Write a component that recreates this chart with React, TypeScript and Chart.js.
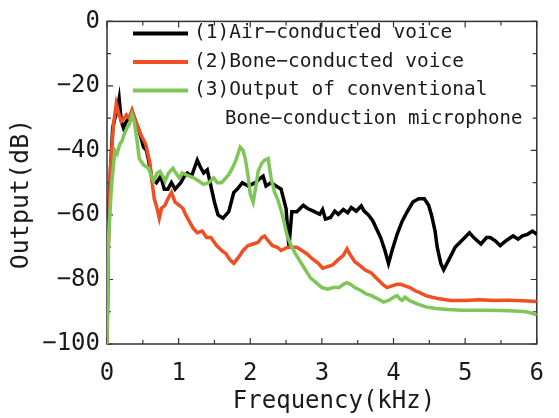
import React, { useEffect, useRef } from "react";
import { Chart, registerables } from "chart.js";

Chart.register(...registerables);

// ---- Data ----
const xTickValues = [0, 1, 2, 3, 4, 5, 6];
const yTickValues = [0, -20, -40, -60, -80, -100];
const seriesLabels = [
  "(1)Air−conducted voice",
  "(2)Bone−conducted voice",
  "(3)Output of conventional",
];
const legendContinuation = "Bone−conduction microphone";
const xTitle = "Frequency(kHz)";
const yTitle = "Output(dB)";

const airFreq = [
  0, 0.02, 0.05, 0.08, 0.11, 0.14, 0.17, 0.2, 0.23, 0.27, 0.31, 0.35, 0.4, 0.45, 0.51, 0.55, 0.58,
  0.63, 0.69, 0.75, 0.8, 0.85, 0.9, 0.95, 1.03, 1.08, 1.12, 1.18, 1.26, 1.3, 1.35, 1.4, 1.46, 1.5,
  1.55, 1.62, 1.7, 1.77, 1.82, 1.89, 1.97, 2.07, 2.12, 2.18, 2.22, 2.29, 2.36, 2.43, 2.5, 2.54,
  2.58, 2.65, 2.74, 2.8, 2.88, 2.97, 3.01, 3.05, 3.12, 3.18, 3.23, 3.3, 3.36, 3.41, 3.48, 3.55,
  3.59, 3.65, 3.71, 3.82, 3.88, 3.93, 3.98, 4.05, 4.12, 4.19, 4.27, 4.35, 4.43, 4.49, 4.53, 4.58,
  4.61, 4.66, 4.7, 4.77, 4.86, 4.95, 5.06, 5.12, 5.22, 5.3, 5.35, 5.42, 5.49, 5.57, 5.67, 5.74,
  5.8, 5.87, 5.94, 6.0,
];
const airDb = [
  -100, -64, -45, -33, -30, -28, -24, -31, -33, -31, -30, -28, -31, -34, -39, -40, -43,
  -49, -50, -48, -52, -52, -50, -52, -50, -48, -47, -48, -43, -45, -47, -46, -52, -56,
  -60, -61, -59, -53, -52, -50, -51, -50, -49, -48, -51, -50, -51, -52, -58, -70,
  -59, -59, -57, -58, -58.8, -59.8, -58.3, -61.3, -60.8, -58.8, -59.8, -58.3, -59.3, -57.7, -58.8, -57.2,
  -58.8, -60, -61.8, -67, -71, -75, -71, -66, -62, -59, -56, -55, -55, -57, -60, -65,
  -70, -75, -77, -74, -70, -68, -65.5, -67, -69, -67, -67, -68, -69.5, -68, -66.5, -67.5,
  -66.5, -66, -65, -66,
];

const boneFreq = [
  0, 0.02, 0.05, 0.09, 0.13, 0.17, 0.2, 0.24, 0.27, 0.31, 0.35, 0.4, 0.47, 0.54, 0.6, 0.63,
  0.66, 0.7, 0.73, 0.76, 0.81, 0.85, 0.9, 0.95, 1.01, 1.06, 1.1, 1.15, 1.2, 1.26, 1.33, 1.39,
  1.45, 1.53, 1.6, 1.66, 1.72, 1.77, 1.84, 1.9, 1.97, 2.04, 2.11, 2.16, 2.2, 2.25, 2.31, 2.38,
  2.43, 2.52, 2.58, 2.65, 2.72, 2.79, 2.86, 2.95, 3.01, 3.08, 3.15, 3.22, 3.3, 3.35, 3.4, 3.46,
  3.52, 3.6, 3.69, 3.78, 3.85, 3.91, 3.98, 4.05, 4.1, 4.16, 4.23, 4.3, 4.36, 4.45, 4.54, 4.64,
  4.8, 5.0, 5.2, 5.4, 5.6, 5.8, 6.0,
];
const boneDb = [
  -100, -70, -45, -32, -25.5, -29, -31, -30, -29, -30, -27.5, -31, -35, -38, -44, -50,
  -55, -58, -61, -58, -57, -55, -53, -56, -57, -58, -60, -62, -64, -65.5, -65, -67,
  -67, -69.5, -71, -72, -74, -75, -73, -71, -69.5, -69, -68.5, -67, -66.5, -68, -69.5, -70,
  -71, -70, -70, -70, -71, -72, -73.5, -75, -76.5, -76, -75.5, -74, -72.5, -70.5, -72.5, -74.5,
  -75.5, -77, -78, -80, -81.5, -82.5, -82, -81.5, -81.5, -82, -82.5, -83.5, -84, -85, -85.5, -86,
  -86.5, -86.5, -86.3, -86.5, -86.4, -86.6, -86.8,
];

const convFreq = [
  0, 0.02, 0.04, 0.06, 0.08, 0.11, 0.14, 0.18, 0.21, 0.24, 0.28, 0.31, 0.35, 0.38, 0.42, 0.45,
  0.51, 0.58, 0.62, 0.65, 0.7, 0.74, 0.78, 0.81, 0.86, 0.92, 0.96, 1.01, 1.05, 1.1, 1.15, 1.21,
  1.28, 1.35, 1.42, 1.49, 1.54, 1.6, 1.66, 1.7, 1.75, 1.8, 1.86, 1.9, 1.93, 1.97, 2.0, 2.04,
  2.08, 2.11, 2.16, 2.2, 2.25, 2.29, 2.34, 2.38, 2.43, 2.47, 2.51, 2.56, 2.63, 2.7, 2.77, 2.84,
  2.92, 3.0, 3.08, 3.16, 3.24, 3.3, 3.35, 3.4, 3.46, 3.55, 3.62, 3.69, 3.78, 3.86, 3.93, 4.0,
  4.05, 4.09, 4.12, 4.16, 4.22, 4.32, 4.45, 4.59, 4.75, 4.95, 5.2, 5.49, 5.7, 5.85, 5.94, 6.0,
];
const convDb = [
  -100, -68, -60, -52, -47, -40, -41, -38, -37, -35, -33, -32, -29, -31, -37, -42.5,
  -44.5, -45.5, -48, -49.5, -47, -46.5, -48, -49.5, -47, -45.5, -47, -48.5, -47, -47.5, -48, -48.5,
  -49.5, -50.5, -50, -48.5, -50, -50, -48.5, -47.5, -45.5, -43, -39, -40, -42.5, -48, -53.5, -56,
  -51, -46.5, -44, -43, -42.5, -48.5, -53, -55, -58.5, -62, -66, -69, -72, -74.5, -77, -79.5,
  -81, -82.5, -83, -82.5, -82.5, -81.5, -81, -81.5, -82.5, -83.5, -84.5, -85, -86, -87, -86.5, -85.5,
  -85, -86, -86.5, -85.5, -86.5, -87.5, -88.5, -89, -89.3, -89.5, -89.5, -89.6, -89.8, -90, -90.5, -91,
];

const seriesColors = ["#000000", "#ef4f22", "#7dc657"];

const FONT = "'DejaVu Sans Mono', monospace";

const toPoints = (xs: number[], ys: number[]) => xs.map((x, i) => ({ x, y: ys[i] }));

const decorPlugin = {
  id: "decor",
  beforeDatasetsDraw(chart: any) {
    const { ctx, chartArea: a, scales } = chart;
    const xs = scales.x;
    const ys = scales.y;
    ctx.save();
    ctx.strokeStyle = "#333333";
    ctx.lineWidth = 1.5;
    ctx.strokeRect(a.left, a.top, a.right - a.left, a.bottom - a.top);
    ctx.lineWidth = 1.2;
    const xStep = (xTickValues[1] - xTickValues[0]) / 2;
    const xMax = xTickValues[xTickValues.length - 1];
    for (let i = 0; xTickValues[0] + i * xStep <= xMax + 1e-9; i++) {
      const v = xTickValues[0] + i * xStep;
      const px = xs.getPixelForValue(v);
      const len = i % 2 === 0 ? 6 : 4;
      ctx.beginPath();
      ctx.moveTo(px, a.bottom);
      ctx.lineTo(px, a.bottom - len);
      ctx.moveTo(px, a.top);
      ctx.lineTo(px, a.top + len);
      ctx.stroke();
    }
    const yStep = (yTickValues[0] - yTickValues[1]) / 2;
    const yMin = yTickValues[yTickValues.length - 1];
    for (let i = 0; yTickValues[0] - i * yStep >= yMin - 1e-9; i++) {
      const v = yTickValues[0] - i * yStep;
      const py = ys.getPixelForValue(v);
      const len = i % 2 === 0 ? 6 : 4;
      ctx.beginPath();
      ctx.moveTo(a.left, py);
      ctx.lineTo(a.left + len, py);
      ctx.moveTo(a.right, py);
      ctx.lineTo(a.right - len, py);
      ctx.stroke();
    }
    ctx.restore();
  },
  afterDraw(chart: any) {
    const { ctx, chartArea: a } = chart;
    ctx.save();
    // axis titles
    ctx.fillStyle = "#1a1a1a";
    ctx.font = `24px ${FONT}`;
    ctx.textAlign = "center";
    ctx.textBaseline = "middle";
    ctx.fillText(xTitle, 334, 402);
    ctx.save();
    ctx.translate(21, 194);
    ctx.rotate(-Math.PI / 2);
    ctx.font = `25px ${FONT}`;
    ctx.fillText(yTitle, 0, 0);
    ctx.restore();
    // legend
    const rowGap = 28.5;
    const x0 = a.left + 26;
    const x1 = a.left + 81;
    const tx = a.left + 87;
    ctx.font = `19.5px ${FONT}`;
    ctx.textAlign = "left";
    seriesLabels.forEach((label, i) => {
      const y = a.top + 12 + i * rowGap;
      ctx.strokeStyle = seriesColors[i];
      ctx.lineWidth = 4;
      ctx.beginPath();
      ctx.moveTo(x0, y);
      ctx.lineTo(x1, y);
      ctx.stroke();
      ctx.fillStyle = "#1a1a1a";
      ctx.fillText(label, tx, y);
    });
    ctx.font = `19px ${FONT}`;
    ctx.fillText(legendContinuation, tx + 31, a.top + 12 + 3 * rowGap);
    ctx.restore();
  },
};

export default function App() {
  const canvasRef = useRef<HTMLCanvasElement | null>(null);

  useEffect(() => {
    if (!canvasRef.current) return;
    const chart = new Chart(canvasRef.current, {
      type: "line",
      data: {
        datasets: [
          {
            label: seriesLabels[0],
            data: toPoints(airFreq, airDb),
            borderColor: seriesColors[0],
            borderWidth: 3.5,
            pointRadius: 0,
            order: 2,
          },
          {
            label: seriesLabels[1],
            data: toPoints(boneFreq, boneDb),
            borderColor: seriesColors[1],
            borderWidth: 3.5,
            pointRadius: 0,
            order: 1,
          },
          {
            label: seriesLabels[2],
            data: toPoints(convFreq, convDb),
            borderColor: seriesColors[2],
            borderWidth: 3.5,
            pointRadius: 0,
            order: 0,
          },
        ],
      },
      options: {
        animation: false,
        responsive: true,
        maintainAspectRatio: false,
        layout: { padding: { top: 19, right: 8, left: 0, bottom: 0 } },
        plugins: {
          legend: { display: false },
          tooltip: { enabled: false },
        },
        scales: {
          x: {
            type: "linear",
            min: xTickValues[0],
            max: xTickValues[xTickValues.length - 1],
            afterFit: (s: any) => {
              s.height = 74;
            },
            afterBuildTicks: (s: any) => {
              s.ticks = xTickValues.map((v) => ({ value: v }));
            },
            ticks: {
              font: { family: FONT, size: 24 },
              color: "#1a1a1a",
              padding: 15,
              maxRotation: 0,
              callback: (v: any) => String(v),
            },
            grid: { display: false, drawTicks: false },
            border: { display: false },
          },
          y: {
            type: "linear",
            min: yTickValues[yTickValues.length - 1],
            max: yTickValues[0],
            afterFit: (s: any) => {
              s.width = 107;
            },
            afterBuildTicks: (s: any) => {
              s.ticks = yTickValues.map((v) => ({ value: v }));
            },
            ticks: {
              font: { family: FONT, size: 24 },
              color: "#1a1a1a",
              padding: 7,
              callback: (v: any) => String(v).replace("-", "−"),
            },
            grid: { display: false, drawTicks: false },
            border: { display: false },
          },
        },
      },
      plugins: [decorPlugin],
    });
    return () => chart.destroy();
  }, []);

  return (
    <div
      style={{
        position: "fixed",
        left: 0,
        top: 0,
        width: 559,
        height: 418,
        background: "#fff",
      }}
    >
      <canvas ref={canvasRef} />
    </div>
  );
}
